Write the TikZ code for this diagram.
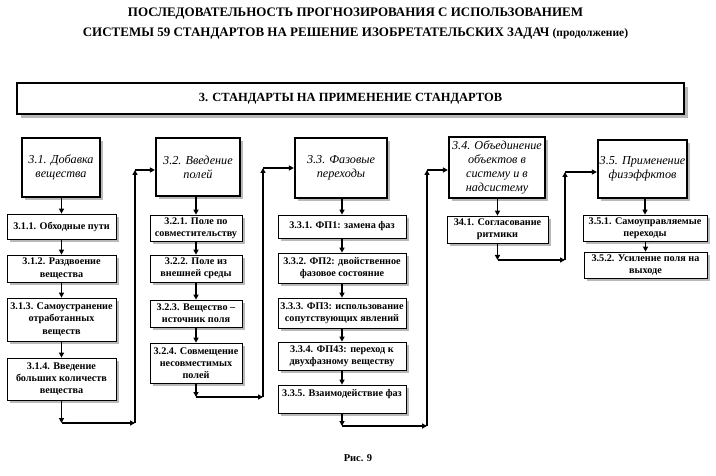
\documentclass[tikz,border=0pt]{standalone}
\usepackage{fontspec}
\setmainfont{Liberation Serif}
\usetikzlibrary{arrows.meta, shadows}

\begin{document}
\begin{tikzpicture}[
    x=1pt, y=-1pt,
    every node/.style={font=\fontsize{10}{12}\selectfont},
    banner/.style={rectangle, draw, line width=2.6pt, fill=white, minimum width=667pt, minimum height=31pt,
        drop shadow={shadow xshift=4pt, shadow yshift=-4pt, fill=gray!55, opacity=1}, font=\fontsize{12.5}{14}\selectfont\bfseries},
    stdbox/.style={rectangle, draw, line width=2.2pt, fill=white, align=center, inner sep=0.5pt,
        drop shadow={shadow xshift=3pt, shadow yshift=-3pt, fill=gray!55, opacity=1}, font=\fontsize{12.2}{14}\selectfont\itshape},
    subbox/.style={rectangle, draw, line width=0.7pt, fill=white, align=center, inner sep=0pt,
        drop shadow={shadow xshift=3pt, shadow yshift=-3pt, fill=gray!55, opacity=1}, font=\fontsize{10.2}{12.3}\selectfont\bfseries},
    arrow/.style={-{Triangle[length=5pt, width=5pt]}, line width=1.6pt},
    title/.style={anchor=base, font=\fontsize{13}{15}\selectfont\bfseries}
]
\useasboundingbox (0,0) rectangle (716,476);

% Title
\node[title] (title1) at (355.5,17) {ПОСЛЕДОВАТЕЛЬНОСТЬ ПРОГНОЗИРОВАНИЯ С ИСПОЛЬЗОВАНИЕМ};
\node[title] (title2) at (355.5,37) {СИСТЕМЫ 59 СТАНДАРТОВ НА РЕШЕНИЕ ИЗОБРЕТАТЕЛЬСКИХ ЗАДАЧ {\fontsize{11.5}{13}\selectfont(продолжение)}};

\node[banner] (head) at (350.5,98.5) {3. СТАНДАРТЫ НА ПРИМЕНЕНИЕ СТАНДАРТОВ};

% ============ 3.1 ============
\node[stdbox, minimum width=78pt, minimum height=59pt] (m31) at (61,167.5) {3.1. Добавка\\вещества};
\node[subbox, minimum width=109pt, minimum height=25pt] (s311) at (61.5,226.5) {3.1.1. Обходные пути};
\node[subbox, minimum width=109pt, minimum height=27pt] (s312) at (61.5,268.5) {3.1.2. Раздвоение\\вещества};
\node[subbox, minimum width=109pt, minimum height=43pt] (s313) at (61.5,319.5) {3.1.3. Самоустранение\\отработанных\\веществ};
\node[subbox, minimum width=109pt, minimum height=42pt] (s314) at (61.5,379) {3.1.4. Введение\\больших количеств\\вещества};

% ============ 3.2 ============
\node[stdbox, minimum width=84pt, minimum height=58pt] (m32) at (198,167) {3.2. Введение\\полей};
\node[subbox, minimum width=92pt, minimum height=26pt] (s321) at (196,228) {3.2.1. Поле по\\совместительству};
\node[subbox, minimum width=92pt, minimum height=27pt] (s322) at (196,268.5) {3.2.2. Поле из\\внешней среды};
\node[subbox, minimum width=92pt, minimum height=27pt] (s323) at (196,313.5) {3.2.3. Вещество –\\источник поля};
\node[subbox, minimum width=92pt, minimum height=40pt] (s324) at (196,363) {3.2.4. Совмещение\\несовместимых\\полей};

% ============ 3.3 ============
\node[stdbox, minimum width=92pt, minimum height=60pt] (m33) at (341,168) {3.3. Фазовые\\переходы};
\node[subbox, minimum width=128pt, minimum height=23pt] (s331) at (342,226.5) {3.3.1. ФП1: замена фаз};
\node[subbox, minimum width=128pt, minimum height=30pt] (s332) at (342,268) {3.3.2. ФП2: двойственное\\фазовое состояние};
\node[subbox, minimum width=128pt, minimum height=30pt] (s333) at (342,313) {3.3.3. ФП3: использование\\сопутствующих явлений};
\node[subbox, minimum width=128pt, minimum height=28pt] (s334) at (342,356) {3.3.4. ФП43: переход к\\двухфазному веществу};
\node[subbox, minimum width=128pt, minimum height=28pt] (s335) at (342,399) {3.3.5. Взаимодействие фаз\\\mbox{}};

% ============ 3.4 ============
\node[stdbox, minimum width=96pt, minimum height=61pt] (m34) at (497,167.5) {3.4. Объединение\\объектов в\\систему и в\\надсистему};
\node[subbox, minimum width=101pt, minimum height=27pt] (s341) at (497.5,229.5) {34.1. Согласование\\ритмики};

% ============ 3.5 ============
\node[stdbox, minimum width=89pt, minimum height=58pt] (m35) at (642.5,169) {3.5. Применение\\физэффктов};
\node[subbox, minimum width=124pt, minimum height=26pt] (s351) at (645,228) {3.5.1. Самоуправляемые\\переходы};
\node[subbox, minimum width=123pt, minimum height=26pt] (s352) at (645.5,265) {3.5.2. Усиление поля на\\выходе};

% Arrows inside columns
\foreach \a/\b in {m31/s311, s311/s312, s312/s313, s313/s314,
                   m32/s321, s321/s322, s322/s323, s323/s324,
                   m33/s331, s331/s332, s332/s333, s333/s334, s334/s335,
                   m34/s341, m35/s351, s351/s352} {
    \draw[arrow] (\b.north |- \a.south) -- (\b.north);
}

% Links between columns
\coordinate (c1a) at (61.5,423); \coordinate (c1b) at (135,423); \coordinate (c1c) at (135,170);
\coordinate (c2a) at (196,397);  \coordinate (c2b) at (263,397); \coordinate (c2c) at (263,168);
\coordinate (c3a) at (342,426);  \coordinate (c3b) at (427,426); \coordinate (c3c) at (427,170);
\coordinate (c4a) at (497.5,260); \coordinate (c4b) at (565,260); \coordinate (c4c) at (565,172);

\foreach \s/\n/\m in {s314/1/m32, s324/2/m33, s335/3/m34, s341/4/m35} {
    \draw[arrow] (\s.south) -- (c\n a);
    \draw[arrow] (c\n a) -- (c\n b);
    \draw[arrow] (c\n b) -- (c\n c);
    \draw[arrow] (c\n c) -- (c\n c -| \m.west);
}

% Caption
\node[font=\fontsize{10.5}{12}\selectfont\bfseries] (fig) at (358,458) {Рис. 9};

\end{tikzpicture}
\end{document}
